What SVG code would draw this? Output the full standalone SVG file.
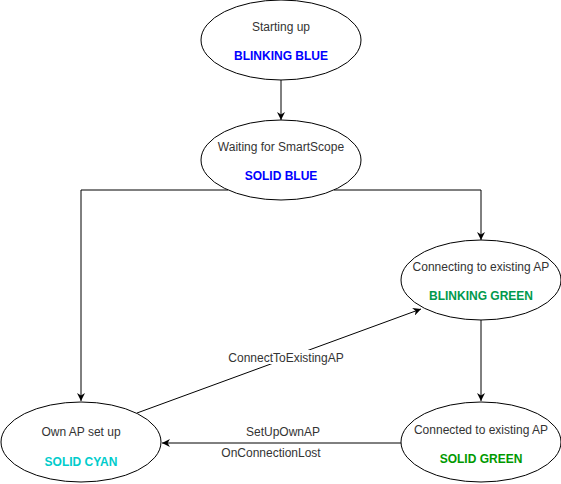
<svg xmlns="http://www.w3.org/2000/svg" width="561" height="484" viewBox="0 0 561 484">
<defs>
<marker id="arr" viewBox="0 0 10 10" refX="10" refY="5" markerWidth="8" markerHeight="8" markerUnits="userSpaceOnUse" orient="auto">
<path d="M0,0 L10,5 L0,10 L3,5 Z" fill="#000"/>
</marker>
<style>
.n{fill:#fff;stroke:#000;stroke-width:1}
.t{font-family:"Liberation Sans",Arial,sans-serif;font-size:12px;fill:#333;text-anchor:middle}
.b{font-family:"Liberation Sans",Arial,sans-serif;font-size:12px;font-weight:bold;text-anchor:middle}
.c{fill:none;stroke:#000;stroke-width:1;marker-end:url(#arr)}
</style>
</defs>
<rect width="561" height="484" fill="#fff"/>
<g id="connectors">
<path class="c" d="M281,80 L281,120"/>
<path class="c" d="M228,190 L81,190 L81,401"/>
<path class="c" d="M334,190 L481,190 L481,240"/>
<path class="c" d="M481,320 L481,401"/>
<path class="c" d="M401,443 L162,443"/>
<path class="c" d="M137,413 L421,309"/>
<rect x="222" y="350" width="128" height="14" fill="#fff"/>
<text class="t" x="286" y="362">ConnectToExistingAP</text>
<text class="t" x="283" y="436">SetUpOwnAP</text>
<text class="t" x="271" y="457">OnConnectionLost</text>
</g>
<g id="starting">
<ellipse class="n" cx="281" cy="40" rx="80" ry="40"/>
<text class="t" x="281" y="31">Starting up</text>
<text class="b" x="281" y="60" fill="#0000FF">BLINKING BLUE</text>
</g>
<g id="waiting">
<ellipse class="n" cx="281" cy="160" rx="80" ry="40"/>
<text class="t" x="281" y="151">Waiting for SmartScope</text>
<text class="b" x="281" y="180" fill="#0000FF">SOLID BLUE</text>
</g>
<g id="connecting">
<ellipse class="n" cx="481" cy="280" rx="80" ry="40"/>
<text class="t" x="481" y="271">Connecting to existing AP</text>
<text class="b" x="481" y="300" fill="#00994D">BLINKING GREEN</text>
</g>
<g id="ownap">
<ellipse class="n" cx="81" cy="442" rx="80" ry="40"/>
<text class="t" x="81" y="436">Own AP set up</text>
<text class="b" x="81" y="466" fill="#00CCCC">SOLID CYAN</text>
</g>
<g id="connected">
<ellipse class="n" cx="481" cy="442" rx="80" ry="40"/>
<text class="t" x="481" y="434">Connected to existing AP</text>
<text class="b" x="481" y="463" fill="#009900">SOLID GREEN</text>
</g>
</svg>
